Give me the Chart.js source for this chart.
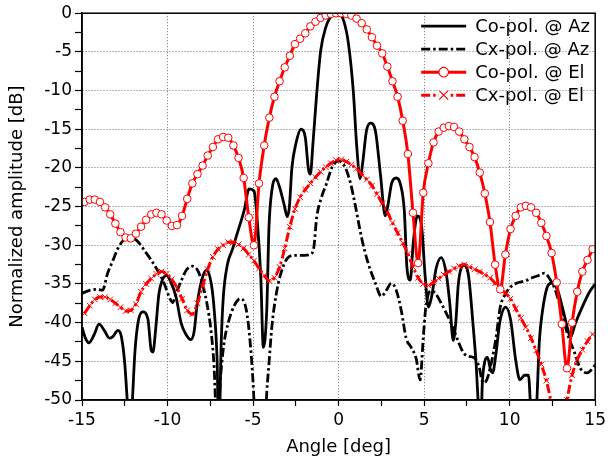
<!DOCTYPE html>
<html>
<head>
<meta charset="utf-8">
<script src="https://cdn.jsdelivr.net/npm/chart.js@4.4.0/dist/chart.umd.min.js"></script>
<style>
  html, body { margin: 0; padding: 0; background: #fff; }
  #wrap { width: 610px; height: 461px; }
</style>
</head>
<body>
<div id="wrap"><canvas id="patternChart" width="610" height="461"></canvas></div>
<script>
// Axis ticks
const angleTicks = [-15, -10, -5, 0, 5, 10, 15];
const ampTicks = [0, -5, -10, -15, -20, -25, -30, -35, -40, -45, -50];

// Azimuth cuts: [angle, dB]
const coPolAz = [
    [-15, -40.6], [-14.8, -42], [-14.6, -42.6], [-14.3, -41.6], [-14.0, -40.2], [-13.7, -41], [-13.4, -42],
    [-13.2, -41.8], [-12.9, -41], [-12.7, -41.8], [-12.5, -45.3], [-12.3, -52], [-12.2, -55], [-12.1, -52],
    [-11.9, -43.6], [-11.7, -39.7], [-11.45, -38.6], [-11.15, -39.5], [-10.95, -43.6], [-10.85, -43.8],
    [-10.7, -41], [-10.5, -36.2], [-10.3, -34.5], [-10.06, -33.9], [-9.8, -34.8], [-9.5, -36.7], [-9.2, -40.1],
    [-8.9, -41.6], [-8.65, -42.2], [-8.45, -41.2], [-8.26, -37.5], [-8.0, -34.5], [-7.73, -33.2], [-7.44, -35],
    [-7.27, -38.4], [-7.1, -45], [-7.0, -55], [-6.86, -42.5], [-6.74, -36.7], [-6.5, -32.5], [-6.2, -30.5],
    [-5.93, -28.5], [-5.52, -25.5], [-5.23, -22.7], [-4.94, -23], [-4.77, -26.4], [-4.55, -34], [-4.4, -43.2],
    [-4.2, -38.4], [-4.07, -27.7], [-3.9, -22.9], [-3.66, -21.4], [-3.45, -22.5], [-3.2, -24.6], [-3.0, -26.3],
    [-2.88, -25.1], [-2.73, -20], [-2.5, -16.9], [-2.2, -15], [-1.95, -16], [-1.76, -20.2], [-1.65, -20.8],
    [-1.5, -16.9], [-1.28, -10.4], [-1.05, -4.9], [-0.76, -1.9], [-0.4, -0.3], [0, 0], [0.3, -1], [0.58, -4],
    [0.87, -10.4], [1.05, -16.9], [1.26, -21.4], [1.4, -19.5], [1.63, -15.2], [1.86, -14.2], [2.15, -15.2],
    [2.44, -20.7], [2.73, -26.2], [2.9, -24.6], [3.1, -22], [3.37, -21.3], [3.6, -22], [3.84, -25.5], [4.0, -33],
    [4.19, -34.5], [4.36, -29.8], [4.6, -26.2], [4.85, -27.5], [5.06, -34], [5.25, -38], [5.45, -36.5],
    [5.7, -33], [6.0, -31.6], [6.28, -33.5], [6.5, -37.5], [6.7, -42.3], [6.85, -40], [7.0, -35], [7.33, -32.6],
    [7.6, -34], [7.85, -40], [8.05, -45.7], [8.2, -52], [8.3, -55], [8.4, -48], [8.55, -45], [8.7, -44.5],
    [8.9, -46.2], [9.0, -46.5], [9.2, -44], [9.42, -40], [9.77, -38], [10.06, -39.7], [10.35, -44.8],
    [10.6, -47.4], [10.87, -46.8], [11.1, -46.8], [11.25, -52], [11.4, -55], [11.55, -52], [11.74, -42.3],
    [11.9, -38.8], [12.2, -35.4], [12.44, -34.9], [12.8, -35.8], [13.08, -38], [13.37, -40.6], [13.55, -41.9],
    [13.84, -40.1], [14.24, -38], [14.65, -36.1], [15, -35]
];

const cxPolAz = [
    [-15, -36.2], [-14.5, -35.8], [-14.1, -35.7], [-13.8, -35.8], [-13.5, -33.6], [-13.2, -32], [-12.9, -30.4],
    [-12.6, -29.4], [-12.3, -29], [-12.0, -29.1], [-11.7, -29.6], [-11.34, -30.7], [-10.93, -32], [-10.6, -33.2],
    [-10.2, -34.9], [-9.9, -36.7], [-9.7, -37.4], [-9.5, -36.2], [-9.2, -34.6], [-8.9, -33.2], [-8.55, -32.7],
    [-8.2, -33.4], [-7.9, -35.5], [-7.7, -37.5], [-7.44, -41.4], [-7.27, -46], [-7.15, -52], [-7.05, -52],
    [-6.9, -47], [-6.7, -42.7], [-6.45, -40], [-6.1, -37.8], [-5.75, -36.9], [-5.4, -38.3], [-5.15, -43],
    [-4.97, -49], [-4.8, -58], [-4.4, -58], [-4.2, -49.1], [-4.07, -45.3], [-3.9, -40.5], [-3.66, -36.5],
    [-3.37, -33.6], [-3.0, -31.7], [-2.6, -31.3], [-2.0, -31.3], [-1.6, -31.1], [-1.45, -30.3], [-1.28, -26.4],
    [-1.0, -23.8], [-0.7, -22], [-0.4, -20], [0, -19.1], [0.4, -20], [0.7, -22], [1.0, -25.1], [1.34, -29],
    [1.74, -32.4], [2.15, -34.9], [2.5, -36.6], [2.8, -35.8], [3.08, -34.9], [3.37, -35.8], [3.66, -38.4],
    [3.95, -42], [4.24, -43.2], [4.53, -44.6], [4.77, -47.4], [4.94, -42.3], [5.1, -38], [5.4, -35.9],
    [5.65, -36.2], [6.0, -37.5], [6.3, -38.8], [6.6, -40.2], [6.9, -41.9], [7.2, -43.5], [7.5, -44.3],
    [7.9, -44.5], [8.2, -45.6], [8.45, -47.8], [8.66, -47.4], [8.9, -45.5], [9.2, -42], [9.45, -38],
    [9.7, -36.5], [10.0, -35.5], [10.4, -34.9], [10.9, -34.6], [11.3, -34.2], [11.7, -33.9], [12.03, -33.6],
    [12.33, -34.3], [12.67, -35.8], [12.97, -38], [13.37, -41.4], [13.78, -43.8], [14.13, -45.9],
    [14.53, -46.5], [15, -45.5]
];

// Elevation cuts, sampled at the marker angles
const elAngles = [
    -14.85, -14.55, -14.25, -13.95, -13.65, -13.35, -13.05, -12.75, -12.45, -12.15,
    -11.85, -11.55, -11.25, -10.95, -10.65, -10.35, -10.05, -9.75, -9.45, -9.15,
    -8.85, -8.55, -8.25, -7.95, -7.65, -7.35, -7.05, -6.75, -6.45, -6.15,
    -5.85, -5.55, -5.25, -4.95, -4.65, -4.35, -4.05, -3.75, -3.45, -3.15,
    -2.85, -2.55, -2.25, -1.95, -1.65, -1.35, -1.05, -0.75, -0.45, -0.15,
    0.15, 0.45, 0.75, 1.05, 1.35, 1.65, 1.95, 2.25, 2.55, 2.85,
    3.15, 3.45, 3.75, 4.05, 4.35, 4.65, 4.95, 5.25, 5.55, 5.85,
    6.15, 6.45, 6.75, 7.05, 7.35, 7.65, 7.95, 8.25, 8.55, 8.85,
    9.15, 9.45, 9.75, 10.05, 10.35, 10.65, 10.95, 11.25, 11.55, 11.85,
    12.15, 12.45, 12.75, 13.05, 13.35, 13.65, 13.95, 14.25, 14.55, 14.85
];

const coPolEl = [
    -24.4, -24.1, -24.1, -24.4, -25.1, -26.0, -27.2, -28.3, -29.0, -29.1,
    -28.5, -27.6, -26.7, -26.0, -25.8, -26.0, -26.8, -27.5, -27.4, -26.2,
    -24.0, -22.0, -20.8, -19.7, -18.4, -17.3, -16.3, -16.0, -16.1, -17.1,
    -18.7, -21.3, -26.4, -30.0, -22.0, -17.1, -13.5, -10.8, -8.8, -7.0,
    -5.5, -4.0, -3.3, -2.6, -1.7, -1.1, -0.6, -0.3, -0.1, 0,
    0, -0.1, -0.3, -0.7, -1.3, -2.1, -3.1, -4.2, -5.2, -6.9,
    -8.8, -10.8, -13.9, -18.2, -25.8, -32.3, -23.2, -19.4, -16.7, -15.3,
    -14.8, -14.6, -14.7, -15.3, -16.3, -17.3, -18.6, -20.6, -23.3, -27.0,
    -32.5, -35.7, -31.2, -27.9, -26.2, -25.1, -24.9, -25.1, -25.8, -27.1,
    -28.8, -31.0, -34.8, -40.2, -45.9, -40.0, -36.0, -33.4, -31.9, -30.5
];

const cxPolEl = [
    -38.8, -37.8, -37.0, -36.7, -36.7, -37.0, -37.5, -38.0, -38.5, -38.4,
    -37.6, -36.0, -35.0, -34.3, -33.7, -33.4, -33.7, -34.4, -35.5, -36.9,
    -38.4, -38.9, -37.5, -35.3, -33.1, -31.5, -30.5, -30.0, -29.6, -29.6,
    -29.9, -30.4, -31.2, -32.0, -33.0, -33.9, -34.6, -34.2, -32.8, -30.4,
    -27.6, -25.3, -23.8, -22.8, -22.0, -21.2, -20.5, -19.9, -19.4, -19.0,
    -18.9, -19.2, -19.6, -20.1, -20.8, -21.5, -22.3, -23.4, -24.6, -25.7,
    -27.1, -28.4, -29.7, -31.1, -32.8, -34.2, -35.0, -35.2, -34.8, -34.3,
    -33.8, -33.4, -33.0, -32.7, -32.5, -32.8, -33.1, -33.4, -33.8, -34.2,
    -34.9, -35.6, -36.2, -36.9, -38.2, -39.4, -40.6, -42.0, -43.6, -45.4,
    -47.5, -50.5, -53.0, -54.0, -50.0, -46.8, -44.8, -43.5, -42.4, -41.5
];

const seriesNames = ['Co-pol. @ Az', 'Cx-pol. @ Az', 'Co-pol. @ El', 'Cx-pol. @ El'];

const FONT = '"DejaVu Sans", "Liberation Sans", Arial, sans-serif';
const DASH_DOT = [9, 3, 2.5, 3];

function pairs(list) {
    return list.map(p => ({ x: p[0], y: p[1] }));
}
function zipEl(values) {
    return elAngles.map((a, i) => ({ x: a, y: values[i] }));
}

// Draws the closed frame and the inset legend
const frameAndLegend = {
    id: 'frameAndLegend',
    afterDatasetsDraw(chart) {
        const { ctx, chartArea: a } = chart;
        ctx.save();
        ctx.strokeStyle = '#000';
        ctx.lineWidth = 1.5;
        ctx.strokeRect(a.left, a.top, a.right - a.left, a.bottom - a.top);
        ctx.restore();
    },
    afterDraw(chart) {
        const { ctx, chartArea: a } = chart;
        const x1 = a.right - 174, x2 = a.right - 129, tx = a.right - 120;
        ctx.save();
        chart.data.datasets.forEach((ds, i) => {
            const y = a.top + 13 + i * 23;
            ctx.strokeStyle = ds.borderColor;
            ctx.lineWidth = ds.borderWidth;
            ctx.setLineDash(ds.borderDash || []);
            ctx.beginPath();
            ctx.moveTo(x1, y);
            ctx.lineTo(x2, y);
            ctx.stroke();
            ctx.setLineDash([]);
            const mx = (x1 + x2) / 2;
            if (ds.pointStyle === 'circle' && ds.pointRadius > 0) {
                ctx.fillStyle = '#fff';
                ctx.lineWidth = 1.2;
                ctx.beginPath();
                ctx.arc(mx, y, 4.8, 0, Math.PI * 2);
                ctx.fill();
                ctx.stroke();
            } else if (ds.pointStyle === 'crossRot') {
                ctx.fillStyle = '#fff';
                ctx.fillRect(mx - 5, y - 5, 10, 10);
                ctx.lineWidth = 1.2;
                ctx.beginPath();
                ctx.moveTo(mx - 4.5, y - 4.5); ctx.lineTo(mx + 4.5, y + 4.5);
                ctx.moveTo(mx - 4.5, y + 4.5); ctx.lineTo(mx + 4.5, y - 4.5);
                ctx.stroke();
            }
            ctx.fillStyle = '#000';
            ctx.font = '18px ' + FONT;
            ctx.textBaseline = 'middle';
            ctx.textAlign = 'left';
            ctx.fillText(seriesNames[i], tx, y + 1);
        });
        ctx.restore();
    }
};

function majorGrid(ctx) {
    const v = ctx.tick ? ctx.tick.value : null;
    return (v !== null && Math.abs(v % 5) < 1e-9) ? '#6e6e6e' : 'rgba(0,0,0,0)';
}

const ctxPattern = document.getElementById('patternChart').getContext('2d');
const patternChart = new Chart(ctxPattern, {
    type: 'line',
    data: {
        datasets: [{
            label: seriesNames[0],
            data: pairs(coPolAz),
            borderColor: '#000',
            borderWidth: 2.8,
            pointRadius: 0,
            pointStyle: false,
            cubicInterpolationMode: 'monotone',
            order: 2
        }, {
            label: seriesNames[1],
            data: pairs(cxPolAz),
            borderColor: '#000',
            borderWidth: 2.8,
            borderDash: DASH_DOT,
            pointRadius: 0,
            pointStyle: false,
            cubicInterpolationMode: 'monotone',
            order: 3
        }, {
            label: seriesNames[2],
            data: zipEl(coPolEl),
            borderColor: '#ff0000',
            borderWidth: 3,
            pointStyle: 'circle',
            pointRadius: 3.8,
            pointBorderWidth: 1,
            pointBorderColor: '#ff0000',
            pointBackgroundColor: '#ffffff',
            cubicInterpolationMode: 'monotone',
            order: 0
        }, {
            label: seriesNames[3],
            data: zipEl(cxPolEl),
            borderColor: '#ff0000',
            borderWidth: 3,
            borderDash: DASH_DOT,
            pointStyle: 'crossRot',
            pointRadius: 4,
            pointBorderWidth: 1,
            pointBorderColor: '#ff0000',
            cubicInterpolationMode: 'monotone',
            order: 1
        }]
    },
    options: {
        responsive: false,
        animation: false,
        layout: { padding: { top: 12, right: 13, left: 0, bottom: 0 } },
        plugins: {
            legend: { display: false },
            tooltip: { enabled: false }
        },
        scales: {
            x: {
                type: 'linear',
                min: -15,
                max: 15,
                afterFit: function(scale) { scale.height = 61; },
                ticks: {
                    stepSize: 2.5,
                    autoSkip: false,
                    maxRotation: 0,
                    padding: 4,
                    color: '#000',
                    font: { family: FONT, size: 17 },
                    callback: function(value) {
                        return angleTicks.includes(value) ? String(value) : '';
                    }
                },
                grid: {
                    color: majorGrid,
                    lineWidth: 1,
                    tickLength: 6,
                    tickColor: '#000',
                    tickWidth: 1.2,
                    tickBorderDash: []
                },
                border: { display: true, color: '#000', width: 1.5, dash: [1, 2] },
                title: {
                    display: true,
                    text: 'Angle [deg]',
                    color: '#000',
                    font: { family: FONT, size: 18 },
                    padding: { top: 0, bottom: 3 }
                }
            },
            y: {
                min: -50,
                max: 0,
                afterFit: function(scale) { scale.width = 82; },
                ticks: {
                    stepSize: 2.5,
                    autoSkip: false,
                    padding: 3,
                    color: '#000',
                    font: { family: FONT, size: 17 },
                    callback: function(value) {
                        return ampTicks.includes(value) ? String(value) : '';
                    }
                },
                grid: {
                    color: majorGrid,
                    lineWidth: 1,
                    tickLength: 7,
                    tickColor: '#000',
                    tickWidth: 1.2,
                    tickBorderDash: []
                },
                border: { display: true, color: '#000', width: 1.5, dash: [1, 2] },
                title: {
                    display: true,
                    text: 'Normalized amplitude [dB]',
                    color: '#000',
                    font: { family: FONT, size: 18 },
                    padding: { top: 7, bottom: 0 }
                }
            }
        }
    },
    plugins: [frameAndLegend]
});
</script>
</body>
</html>
